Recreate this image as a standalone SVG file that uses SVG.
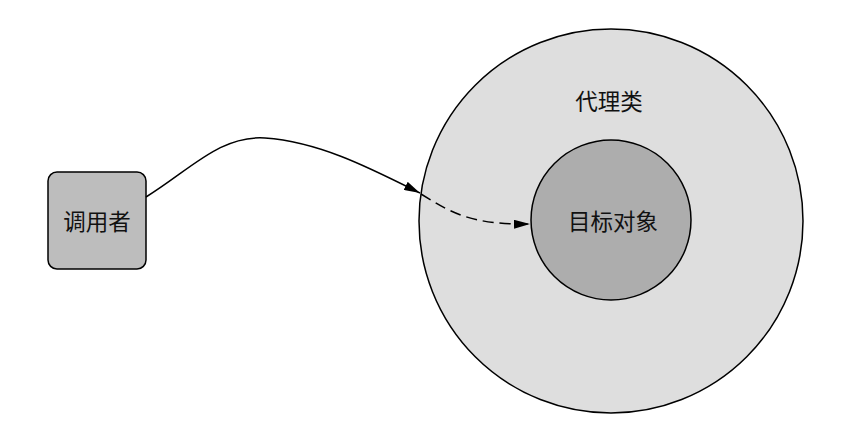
<svg xmlns="http://www.w3.org/2000/svg" width="856" height="448" viewBox="0 0 856 448">
<style>
text{font-family:"Noto Sans CJK SC","Noto Sans",sans-serif;font-size:22.5px;fill:#111;text-anchor:middle;dominant-baseline:central}
.edge{fill:none;stroke:#000;stroke-width:1.5}
</style>
<defs>
<marker id="ah" viewBox="0 0 16 9" refX="16" refY="4.5" markerWidth="16" markerHeight="9" markerUnits="userSpaceOnUse" orient="auto">
<path d="M0,0 L16,4.5 L0,9 Z" fill="#000"/>
</marker>
</defs>
<rect width="856" height="448" fill="#fff"/>
<g id="proxy">
<circle cx="611" cy="221" r="192" fill="#dedede" stroke="#000" stroke-width="1.5"/>
<text x="609" y="100">代理类</text>
</g>
<g id="target">
<circle cx="611" cy="220" r="80" fill="#adadad" stroke="#000" stroke-width="1.5"/>
<text x="613" y="220">目标对象</text>
</g>
<g id="caller">
<rect x="48" y="172" width="98" height="97" rx="9" fill="#bdbdbd" stroke="#000" stroke-width="1.5"/>
<text x="97" y="220">调用者</text>
</g>
<g id="connectors">
<path class="edge" d="M146,197 C190,170 220,135 265,138 C320,142 370,168 420,193" marker-end="url(#ah)"/>
<path class="edge" d="M421,194 C450,212 470,225 530,224" stroke-dasharray="11,6" marker-end="url(#ah)"/>
</g>
</svg>
